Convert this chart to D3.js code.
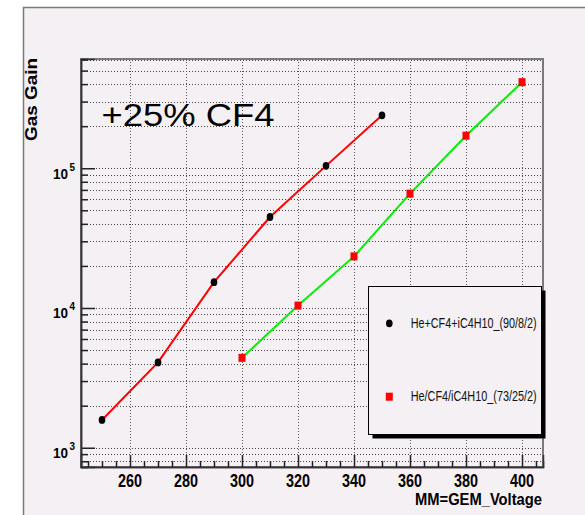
<!DOCTYPE html>
<html>
<head>
<meta charset="utf-8">
<script src="https://cdn.jsdelivr.net/npm/d3@7"></script>
<style>
  body { margin: 0; background: #ffffff; }
  svg { display: block; font-family: "Liberation Sans", Arial, sans-serif; }
</style>
</head>
<body>
<div id="chart"></div>
<script>

// data
let voltage_a = [250, 270, 290, 310, 330, 350];
let gain_a = [1580, 4080, 15300, 44800, 104000, 239000];
let voltage_b = [300, 320, 340, 360, 380, 400];
let gain_b = [4400, 10400, 23400, 65800, 171000, 413000];
let series_names = ["He+CF4+iC4H10_(90/8/2)", "He/CF4/iC4H10_(73/25/2)"];
let x_ticks = [260, 280, 300, 320, 340, 360, 380, 400];
let y_decades = [1000, 10000, 100000];

let W = 585, H = 515;
let pLeft = 81, pRight = 543, pTop = 59, pBottom = 467;
let bg = "#f4f0f4";

let svg = d3.select("#chart")
    .append("svg")
    .attr("width", W)
    .attr("height", H);

// canvas
svg.append("rect")
    .attr("x", 23).attr("y", 7)
    .attr("width", W).attr("height", H)
    .attr("fill", bg);
svg.append("path")
    .attr("d", "M23.5," + H + "V7.5H" + W)
    .attr("fill", "none")
    .attr("stroke", "#7a7a7a")
    .attr("stroke-width", 1.5);

let x = d3.scaleLinear()
    .domain([242.5, 407.5])
    .range([pLeft, pRight]);

let y = d3.scaleLog()
    .domain([728, 605000])
    .range([pBottom, pTop]);

// minor ticks on log axis: 2..9 x 10^n inside the domain
let y_minor = [];
[100, 1000, 10000, 100000].forEach(function (d) {
    for (let k = 2; k <= 9; k++) {
        let v = d * k;
        if (v >= y.domain()[0] && v <= y.domain()[1] * 1.001) y_minor.push(v);
    }
});
let y_all = y_minor.concat(y_decades);

let x_minor = d3.range(245, 406, 5).filter(function (d) { return x_ticks.indexOf(d) < 0; });

// grid
let grid = svg.append("g");
grid.selectAll("line.h")
    .data(y_all)
    .enter()
    .append("line")
    .attr("x1", pLeft).attr("x2", pRight)
    .attr("y1", function (d) { return Math.round(y(d)) + 0.5; })
    .attr("y2", function (d) { return Math.round(y(d)) + 0.5; })
    .attr("stroke", "#444")
    .attr("stroke-width", 1)
    .attr("stroke-dasharray", "1,2");
grid.selectAll("line.v")
    .data(x_ticks)
    .enter()
    .append("line")
    .attr("y1", pTop).attr("y2", pBottom)
    .attr("x1", function (d) { return Math.round(x(d)) + 0.5; })
    .attr("x2", function (d) { return Math.round(x(d)) + 0.5; })
    .attr("stroke", "#555")
    .attr("stroke-width", 1)
    .attr("stroke-dasharray", "1,2");

// frame
svg.append("rect")
    .attr("x", pLeft).attr("y", pTop)
    .attr("width", pRight - pLeft).attr("height", pBottom - pTop)
    .attr("fill", "none")
    .attr("stroke", "#7a7a7a")
    .attr("stroke-width", 2);

// axes with inside ticks
let yMajor = svg.append("g")
    .attr("transform", "translate(" + pLeft + ",0)")
    .call(d3.axisLeft(y).tickValues(y_decades).tickSize(-14).tickFormat(""));
let yMinor = svg.append("g")
    .attr("transform", "translate(" + pLeft + ",0)")
    .call(d3.axisLeft(y).tickValues(y_minor).tickSize(-7).tickFormat(""));
let xMajor = svg.append("g")
    .attr("transform", "translate(0," + pBottom + ")")
    .call(d3.axisBottom(x).tickValues(x_ticks).tickSize(-12).tickFormat(""));
let xMinor = svg.append("g")
    .attr("transform", "translate(0," + pBottom + ")")
    .call(d3.axisBottom(x).tickValues(x_minor).tickSize(-6).tickFormat(""));
[yMajor, yMinor, xMajor, xMinor].forEach(function (g) {
    g.select(".domain").attr("stroke", "#333").attr("stroke-width", 1.5);
    g.selectAll(".tick line").attr("stroke", "#222").attr("stroke-width", 1.5);
});

// tick labels
svg.selectAll("text.xt")
    .data(x_ticks)
    .enter()
    .append("text")
    .attr("x", function (d) { return x(d) - 12; })
    .attr("y", 486.5)
    .attr("font-size", 18)
    .attr("font-weight", "bold")
    .attr("textLength", 24)
    .attr("lengthAdjust", "spacingAndGlyphs")
    .text(function (d) { return d; });

let yl = svg.selectAll("g.yl")
    .data(y_decades)
    .enter()
    .append("g");
yl.append("text")
    .attr("x", 53)
    .attr("y", function (d) { return y(d) + 10.5; })
    .attr("font-size", 15.5)
    .attr("font-weight", "bold")
    .attr("textLength", 15)
    .attr("lengthAdjust", "spacingAndGlyphs")
    .text("10");
yl.append("text")
    .attr("x", 69.5)
    .attr("y", function (d) { return y(d) + 2.5; })
    .attr("font-size", 11)
    .attr("font-weight", "bold")
    .attr("textLength", 5.5)
    .attr("lengthAdjust", "spacingAndGlyphs")
    .text(function (d) { return Math.round(Math.log10(d)); });

// axis titles
svg.append("text")
    .attr("x", 415)
    .attr("y", 505)
    .attr("font-size", 16)
    .attr("font-weight", "bold")
    .attr("textLength", 127)
    .attr("lengthAdjust", "spacingAndGlyphs")
    .text("MM=GEM_Voltage");

svg.append("text")
    .attr("transform", "translate(36.5,141) rotate(-90)")
    .attr("font-size", 16)
    .attr("font-weight", "bold")
    .attr("textLength", 83)
    .attr("lengthAdjust", "spacingAndGlyphs")
    .text("Gas Gain");

svg.append("text")
    .attr("x", 101.5)
    .attr("y", 125.5)
    .attr("font-size", 31)
    .attr("textLength", 173)
    .attr("lengthAdjust", "spacingAndGlyphs")
    .text("+25% CF4");

// series
let line = d3.line()
    .x(function (d) { return x(d[0]); })
    .y(function (d) { return y(d[1]); });

let pts_a = d3.zip(voltage_a, gain_a);
let pts_b = d3.zip(voltage_b, gain_b);

svg.append("path")
    .datum(pts_a)
    .attr("d", line)
    .attr("fill", "none")
    .attr("stroke", "#ff0000")
    .attr("stroke-width", 2);
svg.append("path")
    .datum(pts_b)
    .attr("d", line)
    .attr("fill", "none")
    .attr("stroke", "#00ee00")
    .attr("stroke-width", 2);

svg.selectAll("ellipse.a")
    .data(pts_a)
    .enter()
    .append("ellipse")
    .attr("cx", function (d) { return x(d[0]); })
    .attr("cy", function (d) { return y(d[1]); })
    .attr("rx", 3.3).attr("ry", 3.9)
    .attr("fill", "#000");
svg.selectAll("rect.b")
    .data(pts_b)
    .enter()
    .append("rect")
    .attr("x", function (d) { return x(d[0]) - 3.5; })
    .attr("y", function (d) { return y(d[1]) - 4; })
    .attr("width", 7).attr("height", 8)
    .attr("fill", "#ff0000");

// legend
let lg = svg.append("g");
lg.append("rect")
    .attr("x", 372.5).attr("y", 290.5)
    .attr("width", 173).attr("height", 148)
    .attr("fill", "#000");
lg.append("rect")
    .attr("x", 368.5).attr("y", 286.5)
    .attr("width", 173).attr("height", 148)
    .attr("fill", bg)
    .attr("stroke", "#000")
    .attr("stroke-width", 1);
lg.append("ellipse")
    .attr("cx", 389.3).attr("cy", 323.3)
    .attr("rx", 3.3).attr("ry", 3.9)
    .attr("fill", "#000");
lg.append("rect")
    .attr("x", 385.8).attr("y", 392.7)
    .attr("width", 7).attr("height", 8)
    .attr("fill", "#ff0000");
lg.selectAll("text")
    .data(series_names)
    .enter()
    .append("text")
    .attr("x", 410.7)
    .attr("y", function (d, i) { return i == 0 ? 327.8 : 400.8; })
    .attr("font-size", 14)
    .attr("textLength", 126)
    .attr("lengthAdjust", "spacingAndGlyphs")
    .attr("fill", "#111")
    .text(function (d) { return d; });

</script>
</body>
</html>
